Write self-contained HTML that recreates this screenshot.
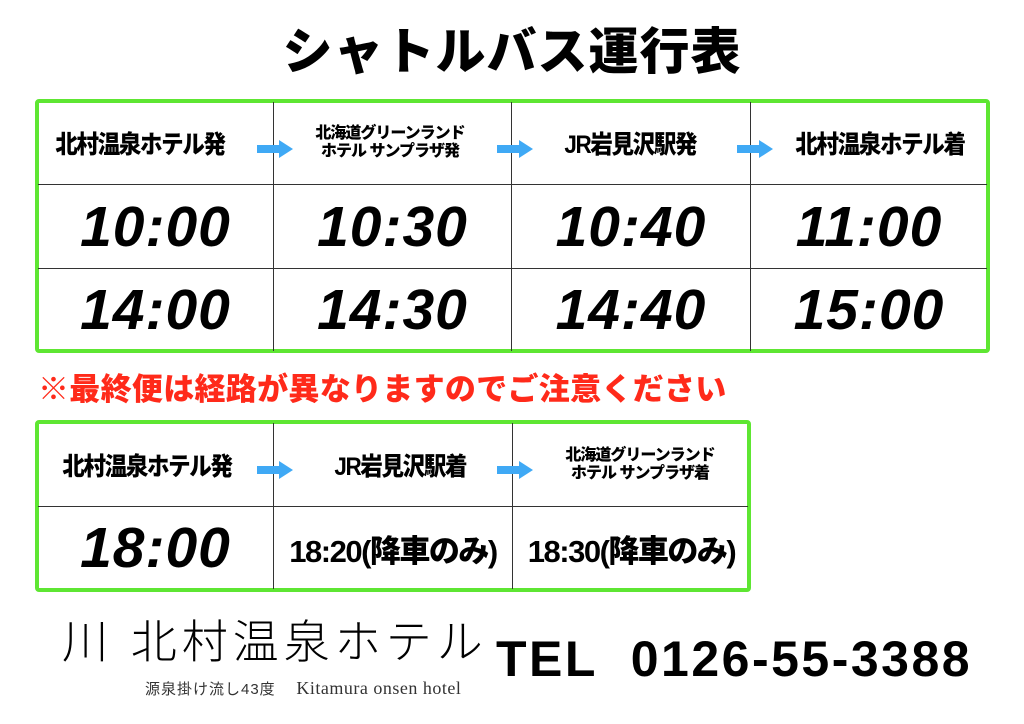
<!DOCTYPE html>
<html><head><meta charset="utf-8"><style>
body{margin:0;width:1024px;height:724px;background:#fff;position:relative;overflow:hidden;font-family:"Liberation Sans","Noto Sans CJK JP",sans-serif;}
.a{position:absolute}
.title{left:0;width:1024px;top:22px;text-align:center;font-size:50px;font-weight:900;letter-spacing:1px;line-height:60px}
.box{border:4px solid #5ee632;border-radius:4px;box-sizing:border-box}
.vl{width:1px;background:#333}
.hl{height:1px;background:#333}
.cell{display:flex;align-items:center;justify-content:center;text-align:center;font-weight:900;white-space:nowrap}
.h{font-size:25px;letter-spacing:-1.5px}
.h span{display:inline-block;transform:scaleX(0.9)}
.hs{font-size:16px;line-height:18px;letter-spacing:-1px}
.t{font-size:57px;font-style:italic;font-weight:900;letter-spacing:1px;font-family:"Liberation Sans",sans-serif}
.t2{font-size:31px;font-weight:900;letter-spacing:-1.5px}
</style></head><body>
<div class="a title">シャトルバス運行表</div>

<div class="a box" style="left:35px;top:99px;width:955px;height:254px"></div>
<div class="a vl" style="left:273px;top:102px;height:249px"></div>
<div class="a vl" style="left:511px;top:102px;height:249px"></div>
<div class="a vl" style="left:750px;top:102px;height:249px"></div>
<div class="a hl" style="left:38px;top:184px;width:949px"></div>
<div class="a hl" style="left:38px;top:268px;width:949px"></div>

<div class="a cell h" style="left:45px;top:102px;width:190px;height:82px"><span>北村温泉ホテル発</span></div>
<div class="a cell hs" style="left:290px;top:102px;width:200px;height:82px">北海道グリーンランド<br>ホテル サンプラザ発</div>
<div class="a cell h" style="left:530px;top:102px;width:200px;height:82px"><span>JR岩見沢駅発</span></div>
<div class="a cell h" style="left:785px;top:102px;width:190px;height:82px"><span>北村温泉ホテル着</span></div>

<svg class="a" style="left:255px;top:139px" width="40" height="20"><path d="M2 6h22v-5l14 9-14 9v-5H2z" fill="#3fa9f5"/></svg>
<svg class="a" style="left:495px;top:139px" width="40" height="20"><path d="M2 6h22v-5l14 9-14 9v-5H2z" fill="#3fa9f5"/></svg>
<svg class="a" style="left:735px;top:139px" width="40" height="20"><path d="M2 6h22v-5l14 9-14 9v-5H2z" fill="#3fa9f5"/></svg>

<div class="a cell t" style="left:38px;top:186px;width:235px;height:82px">10:00</div>
<div class="a cell t" style="left:274px;top:186px;width:237px;height:82px">10:30</div>
<div class="a cell t" style="left:512px;top:186px;width:238px;height:82px">10:40</div>
<div class="a cell t" style="left:751px;top:186px;width:236px;height:82px">11:00</div>
<div class="a cell t" style="left:38px;top:269px;width:235px;height:82px">14:00</div>
<div class="a cell t" style="left:274px;top:269px;width:237px;height:82px">14:30</div>
<div class="a cell t" style="left:512px;top:269px;width:238px;height:82px">14:40</div>
<div class="a cell t" style="left:751px;top:269px;width:236px;height:82px">15:00</div>

<div class="a" style="left:38px;top:370px;font-size:31px;font-weight:900;color:#ff2a1a;letter-spacing:0.3px;line-height:40px;white-space:nowrap">※最終便は経路が異なりますのでご注意ください</div>

<div class="a box" style="left:35px;top:420px;width:716px;height:172px"></div>
<div class="a vl" style="left:273px;top:423px;height:166px"></div>
<div class="a vl" style="left:512px;top:423px;height:166px"></div>
<div class="a hl" style="left:38px;top:506px;width:710px"></div>

<div class="a cell h" style="left:50px;top:423px;width:195px;height:83px"><span>北村温泉ホテル発</span></div>
<div class="a cell h" style="left:300px;top:423px;width:200px;height:83px"><span>JR岩見沢駅着</span></div>
<div class="a cell hs" style="left:540px;top:423px;width:200px;height:83px">北海道グリーンランド<br>ホテル サンプラザ着</div>
<svg class="a" style="left:255px;top:460px" width="40" height="20"><path d="M2 6h22v-5l14 9-14 9v-5H2z" fill="#3fa9f5"/></svg>
<svg class="a" style="left:495px;top:460px" width="40" height="20"><path d="M2 6h22v-5l14 9-14 9v-5H2z" fill="#3fa9f5"/></svg>

<div class="a cell t" style="left:38px;top:507px;width:235px;height:82px">18:00</div>
<div class="a cell t2" style="left:274px;top:507px;width:238px;height:82px">18:20(降車のみ)</div>
<div class="a cell t2" style="left:513px;top:507px;width:237px;height:82px">18:30(降車のみ)</div>

<div class="a" style="left:62px;top:612px;font-size:46px;line-height:60px;letter-spacing:5px;font-weight:300;white-space:nowrap">川 北村温泉ホテル</div>
<div class="a" style="left:145px;top:678px;font-size:15px;color:#333;white-space:nowrap;letter-spacing:1px">源泉掛け流し43度 &nbsp;&nbsp; <span style="font-family:'Liberation Serif',serif;font-size:18px;letter-spacing:0.5px">Kitamura onsen hotel</span></div>
<div class="a" style="left:496px;top:628px;font-size:50px;font-weight:900;line-height:62px;letter-spacing:2.5px;white-space:nowrap">TEL&nbsp; 0126-55-3388</div>
</body></html>
